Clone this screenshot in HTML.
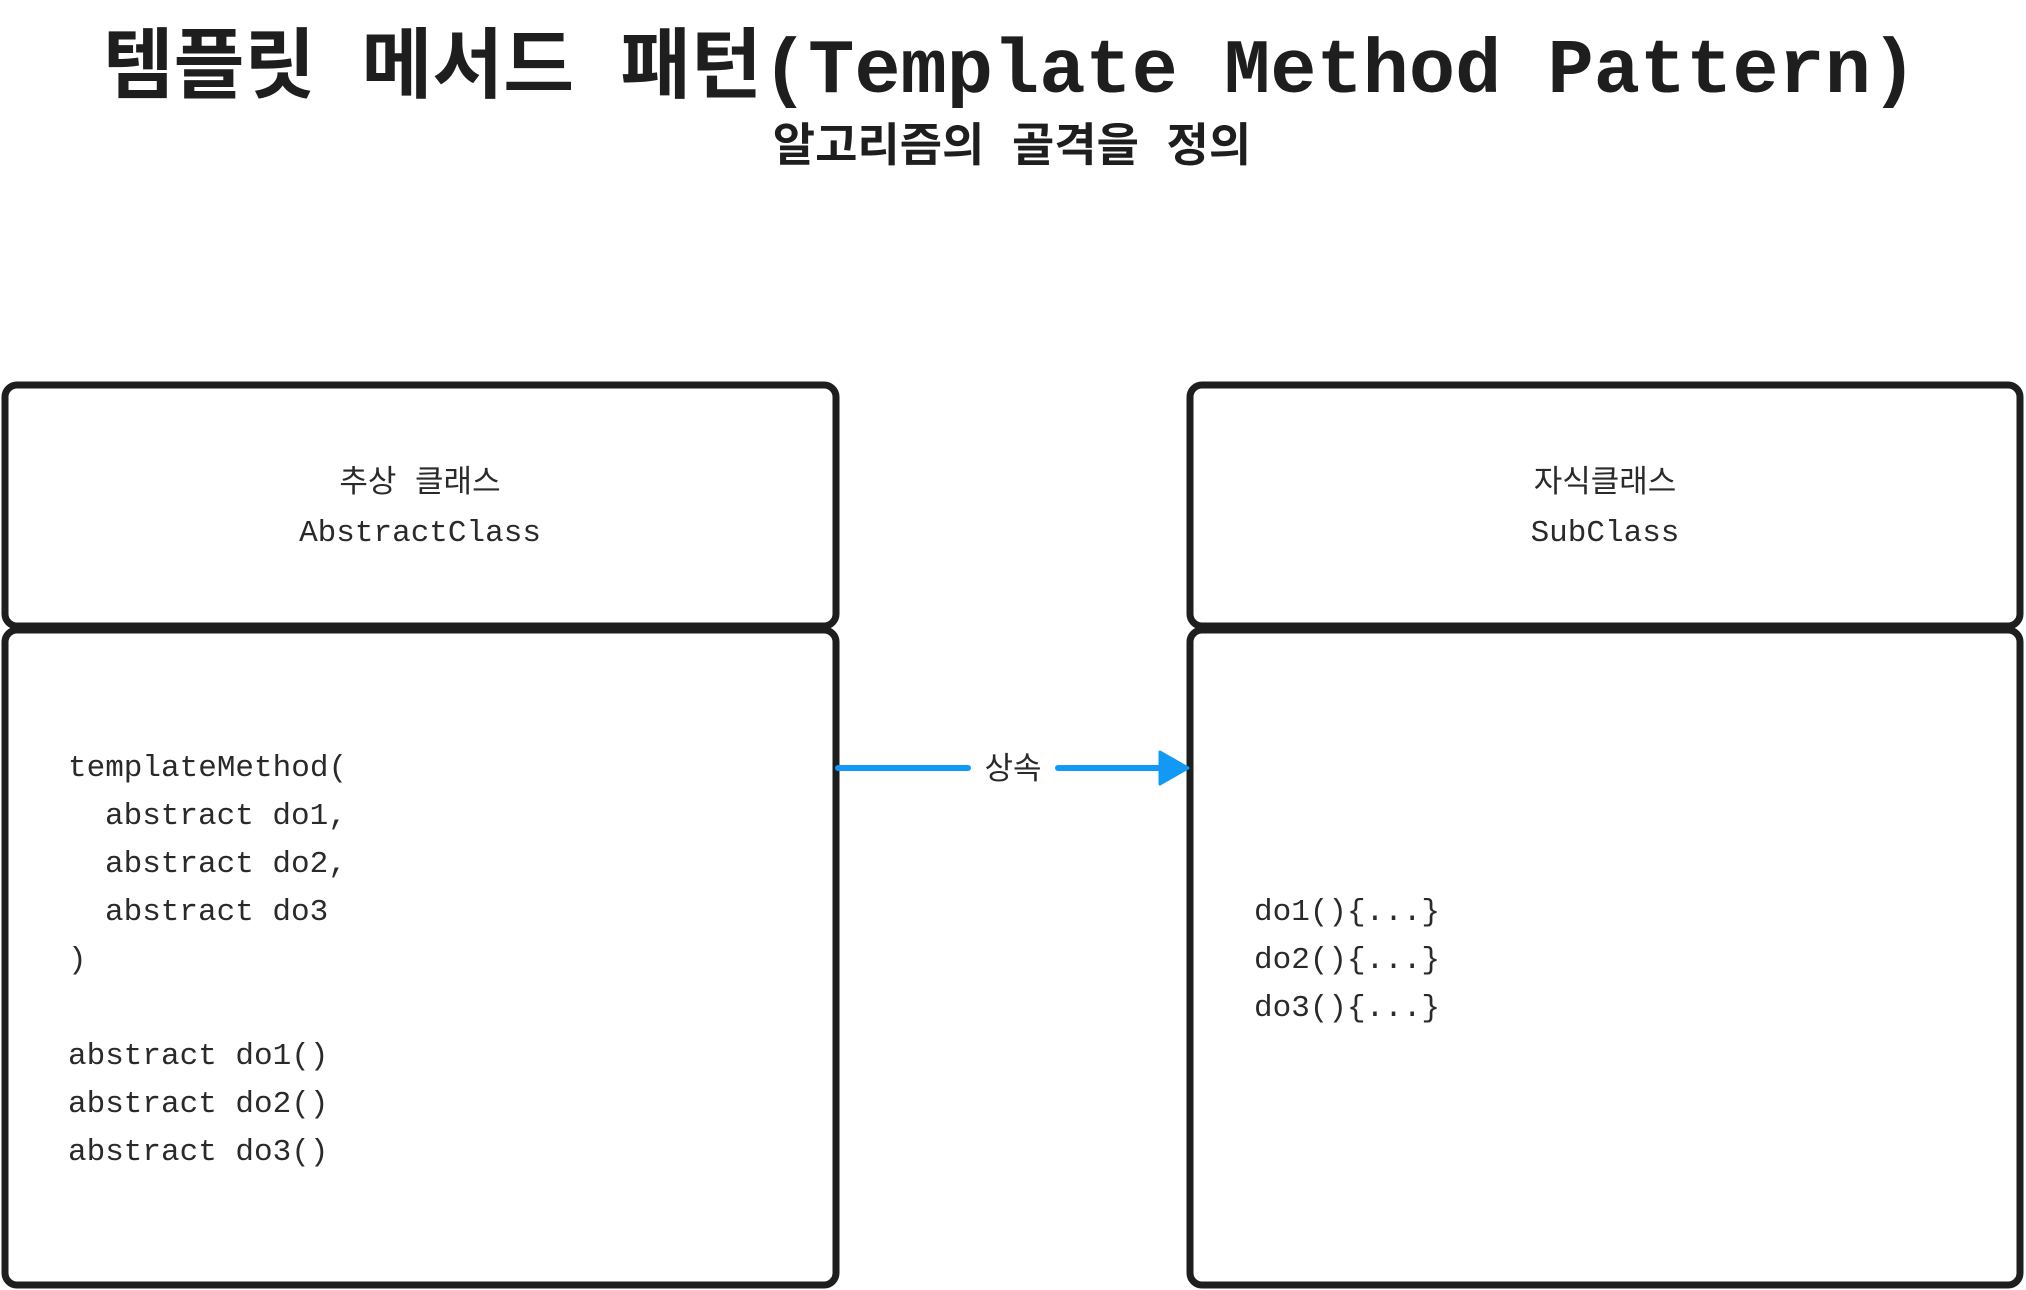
<!DOCTYPE html>
<html><head><meta charset="utf-8"><style>
html,body{margin:0;padding:0;background:#fff;}
svg{display:block}
.t{font-family:"Liberation Mono","Noto Sans CJK KR",monospace;fill:#1e1e1e;}
.c{font-family:"Liberation Mono","Noto Sans CJK KR",monospace;fill:#2a2a2a;font-size:31px;}
</style></head><body>
<svg width="2026" height="1290" viewBox="0 0 2026 1290" xmlns="http://www.w3.org/2000/svg">
<text class="t" x="1010" y="92" font-size="77" font-weight="bold" text-anchor="middle">템플릿 메서드 패턴(Template Method Pattern)</text>
<text class="t" x="1012" y="161" font-size="46" font-weight="bold" text-anchor="middle">알고리즘의 골격을 정의</text>
<g fill="none" stroke="#1e1e1e" stroke-width="7">
<rect x="5" y="385" width="831" height="241" rx="12"/>
<rect x="5" y="630" width="831" height="655" rx="12"/>
<rect x="1190" y="385" width="830" height="241" rx="12"/>
<rect x="1190" y="630" width="830" height="655" rx="12"/>
</g>
<text class="c" x="420" y="492" text-anchor="middle">추상 클래스</text>
<text class="c" x="420" y="541" text-anchor="middle">AbstractClass</text>
<text class="c" x="1605" y="492" text-anchor="middle">자식클래스</text>
<text class="c" x="1605" y="541" text-anchor="middle">SubClass</text>
<g class="c">
<text x="68" y="776">templateMethod(</text>
<text x="105" y="824">abstract do1,</text>
<text x="105" y="872">abstract do2,</text>
<text x="105" y="920">abstract do3</text>
<text x="68" y="968">)</text>
<text x="68" y="1064">abstract do1()</text>
<text x="68" y="1112">abstract do2()</text>
<text x="68" y="1160">abstract do3()</text>
<text x="1254" y="920">do1(){...}</text>
<text x="1254" y="968">do2(){...}</text>
<text x="1254" y="1016">do3(){...}</text>
</g>
<g stroke="#1199f5" stroke-width="6" stroke-linecap="round">
<line x1="838" y1="768" x2="968" y2="768"/>
<line x1="1058" y1="768" x2="1162" y2="768"/>
</g>
<path d="M1160 752 L1188 768 L1160 784 Z" fill="#1199f5" stroke="#1199f5" stroke-width="3" stroke-linejoin="round"/>
<text class="c" x="1013" y="779" text-anchor="middle" fill="#333">상속</text>
</svg>
</body></html>
